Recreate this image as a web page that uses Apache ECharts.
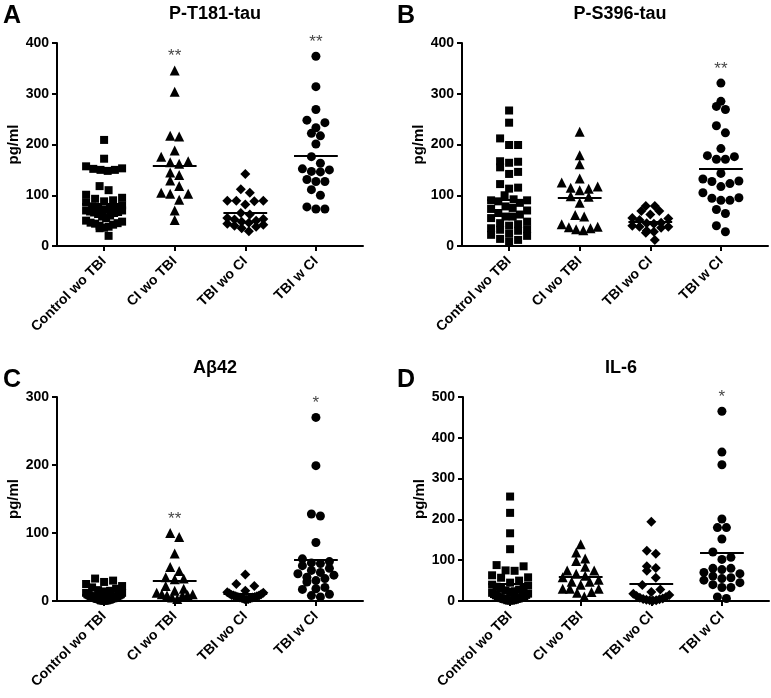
<!DOCTYPE html>
<html>
<head>
<meta charset="utf-8">
<script src="https://cdn.jsdelivr.net/npm/echarts@6/dist/echarts.min.js"></script>
<style>html,body{margin:0;padding:0;background:#fff}#c{width:771px;height:698px}</style>
</head>
<body>
<div id="c"></div>
<script>
// ---- data ----
const categories = ['Control wo TBI', 'CI wo TBI', 'TBI wo CI', 'TBI w CI'];
const panelLetters = ['A', 'B', 'C', 'D'];
const panelTitles = ['P-T181-tau', 'P-S396-tau', 'A\u03b242', 'IL-6'];
const yMax = [400, 400, 300, 500];
const yTicks = [100, 100, 100, 100];

// A: P-T181-tau (pg/ml)
const ptau181_control = [209, 172, 157, 152, 150, 148, 150, 153, 118, 110, 101, 95, 93, 90, 88, 86, 80, 78, 76, 75, 73, 72, 70, 70, 68, 67, 66, 65, 63, 60, 58, 55, 50, 48, 46, 45, 44, 42, 40, 38, 36, 35, 20];
const ptau181_ci = [346, 304, 217, 216, 188, 176, 167, 165, 162, 145, 140, 129, 118, 105, 103, 103, 91, 70, 51];
const ptau181_tbi = [142, 112, 105, 89, 89, 89, 88, 82, 65, 62, 55, 53, 52, 50, 48, 46, 44, 42, 40, 38, 35, 29];
const ptau181_tbici = [374, 314, 269, 243, 248, 222, 233, 217, 201, 176, 163, 150, 147, 152, 146, 131, 127, 127, 111, 100, 77, 73, 73];
const ptau181_stars = ['', '**', '', '**'];

// B: P-S396-tau (pg/ml)
const ptau396_control = [267, 243, 212, 199, 199, 167, 166, 164, 155, 146, 142, 122, 115, 113, 100, 92, 90, 90, 88, 85, 78, 75, 73, 70, 65, 62, 58, 58, 55, 48, 45, 43, 40, 35, 33, 32, 30, 24, 22, 20, 14, 12, 8];
const ptau396_ci = [225, 179, 161, 133, 125, 117, 115, 113, 110, 97, 98, 85, 61, 58, 43, 38, 35, 31, 33, 37];
const ptau396_tbi = [79, 79, 69, 69, 62, 55, 54, 51, 46, 45, 44, 40, 38, 38, 36, 30, 28, 26, 12];
const ptau396_tbici = [321, 285, 275, 269, 237, 223, 192, 178, 176, 171, 171, 143, 132, 128, 127, 123, 117, 105, 95, 94, 90, 90, 72, 64, 40, 28];
const ptau396_stars = ['', '', '', '**'];

// C: Abeta42 (pg/ml)
const abeta_control = [33, 30, 28, 25, 22, 20, 18, 16, 15, 14, 12, 12, 10, 10, 9, 9, 8, 8, 7, 7, 6, 6, 5, 5, 5, 4, 4, 4, 3, 3, 3, 2, 2, 2, 1, 1, 1, 1, 0.5, 0.5];
const abeta_ci = [100, 94, 70, 50, 44, 35, 33, 32, 22, 18, 15, 12, 10, 10, 9, 8, 8, 5, 3];
const abeta_tbi = [39, 25, 22, 15, 13, 12, 11, 10, 9, 8, 8, 7, 7, 6, 6, 5, 5, 4, 4, 3, 3, 2];
const abeta_tbici = [270, 199, 128, 125, 86, 62, 58, 56, 55, 52, 48, 45, 42, 40, 38, 35, 33, 30, 28, 20, 18, 17, 10, 8, 6];
const abeta_stars = ['', '**', '', '*'];

// D: IL-6 (pg/ml)
const il6_control = [256, 216, 166, 127, 88, 85, 75, 74, 63, 58, 57, 50, 45, 40, 38, 35, 32, 30, 28, 26, 24, 22, 20, 18, 17, 15, 14, 12, 11, 10, 9, 8, 7, 6, 5, 5, 4, 3, 2, 2, 1, 1];
const il6_ci = [139, 119, 104, 98, 84, 75, 75, 67, 62, 58, 52, 47, 47, 40, 30, 30, 30, 22, 20, 11];
const il6_tbi = [194, 123, 116, 85, 81, 74, 57, 39, 28, 22, 18, 15, 12, 10, 8, 6, 5, 4, 3, 2, 2, 1];
const il6_tbici = [465, 365, 334, 201, 180, 180, 152, 120, 107, 102, 80, 77, 80, 67, 61, 55, 51, 57, 70, 45, 40, 33, 33, 6, 10];
const il6_stars = ['', '', '', '*'];

const panelData = [
  [ptau181_control, ptau181_ci, ptau181_tbi, ptau181_tbici],
  [ptau396_control, ptau396_ci, ptau396_tbi, ptau396_tbici],
  [abeta_control, abeta_ci, abeta_tbi, abeta_tbici],
  [il6_control, il6_ci, il6_tbi, il6_tbici]
];
const panelStars = [ptau181_stars, ptau396_stars, abeta_stars, il6_stars];

// ---- layout / style ----
const FONT = '"Liberation Sans", Arial, sans-serif';
const grids = [
  { left: 57, top: 43, width: 306, height: 203 },
  { left: 462, top: 43, width: 306, height: 203 },
  { left: 57, top: 397, width: 306, height: 204 },
  { left: 463, top: 397, width: 306, height: 204 }
];
const letterLeft = [3, 397, 3, 397];
const xMin = -0.667, xMax = 3.667;
const symbols = ['rect', 'triangle', 'diamond', 'circle'];
const symbolSizes = [8, 10, 10, 9];
const meanHalf = 0.31;

// Prism-like row scatter: points of similar value share a row; within a row the
// lowest sits in the centre and higher ones move outward (gives the V shapes).
function rowSpread(values, pxY, pxX, rowH, step, cap) {
  const idx = values.map((v, i) => i).sort((a, b) => values[a] - values[b]);
  const offs = new Array(values.length).fill(0);
  const rows = [];
  let cur = [], startY = 0;
  idx.forEach(i => {
    const y = values[i] * pxY;
    if (cur.length && y - startY >= rowH) { rows.push(cur); cur = []; }
    if (!cur.length) startY = y;
    cur.push(i);
  });
  if (cur.length) rows.push(cur);
  rows.forEach(r => {
    const n = r.length;
    const s = n > 1 ? Math.min(step, 2 * cap / (n - 1)) : 0;
    const slots = [];
    for (let k = 0; k < n; k++) slots.push((k - (n - 1) / 2) * s);
    slots.sort((a, b) => Math.abs(a) - Math.abs(b) || b - a);
    r.forEach((i, k) => { offs[i] = slots[k] / pxX; });
  });
  return offs;
}

const mean = a => a.reduce((s, v) => s + v, 0) / a.length;

const option = {
  animation: false,
  backgroundColor: '#fff',
  textStyle: { fontFamily: FONT },
  title: [],
  grid: grids,
  xAxis: [],
  yAxis: [],
  series: []
};

grids.forEach((g, p) => {
  option.title.push({
    text: panelLetters[p], padding: 0,
    left: letterLeft[p], top: p < 2 ? 4 : 368,
    textStyle: { fontSize: 25, fontWeight: 'bold', color: '#000', fontFamily: FONT }
  });
  option.title.push({
    text: panelTitles[p],
    left: g.left + g.width / 2, top: p < 2 ? 0 : 354, textAlign: 'center',
    textStyle: { fontSize: 18, fontWeight: 'bold', color: '#000', fontFamily: FONT }
  });

  option.xAxis.push({
    type: 'value', gridIndex: p, min: xMin, max: xMax,
    splitLine: { show: false },
    axisLine: { show: true, onZero: false, lineStyle: { color: '#000', width: 2 } },
    axisTick: { show: true, customValues: [0, 1, 2, 3], length: 5, lineStyle: { color: '#000', width: 2 } },
    axisLabel: {
      show: true, customValues: [0, 1, 2, 3], rotate: 45, margin: 13,
      formatter: v => categories[Math.round(v)] || '',
      color: '#000', fontSize: 14, fontWeight: 'bold', fontFamily: FONT
    }
  });
  option.yAxis.push({
    type: 'value', gridIndex: p, min: 0, max: yMax[p], interval: yTicks[p],
    name: 'pg/ml', nameLocation: 'middle', nameGap: 36, nameRotate: 90, nameMoveOverlap: false,
    nameTextStyle: { fontSize: 15, fontWeight: 'bold', color: '#000', fontFamily: FONT },
    splitLine: { show: false },
    axisLine: { show: true, onZero: false, lineStyle: { color: '#000', width: 2 } },
    axisTick: { show: true, length: 5, lineStyle: { color: '#000', width: 2 } },
    axisLabel: { color: '#000', fontSize: 14, fontWeight: 'bold', margin: 8, fontFamily: FONT }
  });

  const pxY = g.height / yMax[p];
  const pxX = g.width / (xMax - xMin);
  const starData = [];
  panelData[p].forEach((vals, gi) => {
    const offs = rowSpread(vals, pxY, pxX, 8, 9, 18);
    const m = mean(vals);
    option.series.push({
      type: 'scatter', xAxisIndex: p, yAxisIndex: p,
      symbol: symbols[gi], symbolSize: symbolSizes[gi],
      itemStyle: { color: '#000', opacity: 1 },
      data: vals.map((v, k) => [gi + offs[k], v]),
      markLine: {
        silent: true, symbol: 'none', animation: false,
        label: { show: false },
        lineStyle: { color: '#000', width: 2, type: 'solid' },
        emphasis: { disabled: true },
        data: [[{ coord: [gi - meanHalf, m] }, { coord: [gi + meanHalf, m] }]]
      },
      z: 3
    });
    if (panelStars[p][gi]) {
      starData.push({ value: [gi, Math.max(...vals)], label: { formatter: panelStars[p][gi] } });
    }
  });
  option.series.push({
    type: 'scatter', xAxisIndex: p, yAxisIndex: p,
    symbolSize: 1, itemStyle: { color: 'rgba(0,0,0,0)' },
    label: { show: true, position: 'top', distance: 5, color: '#111', fontSize: 17, fontFamily: FONT },
    data: starData, z: 4
  });
});

const chart = echarts.init(document.getElementById('c'), null, { renderer: 'canvas' });
chart.setOption(option);
</script>
</body>
</html>
